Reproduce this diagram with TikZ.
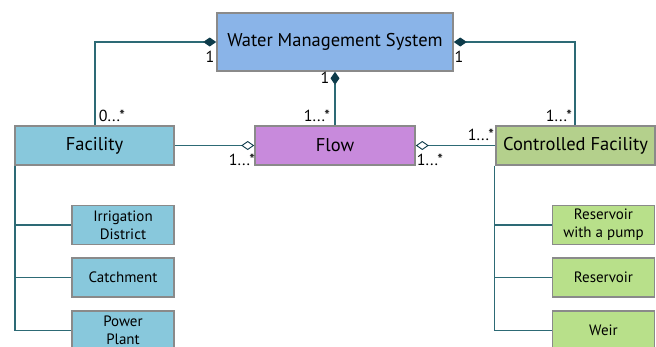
\documentclass[tikz,border=0pt]{standalone}
\usepackage{fontspec}
\setmainfont{PT Sans}
\usetikzlibrary{arrows.meta}
\definecolor{wmsblue}{HTML}{8AB4E8}
\definecolor{facblue}{HTML}{88C8DC}
\definecolor{flowpurple}{HTML}{C88ADC}
\definecolor{cfgreen}{HTML}{B4D08C}
\definecolor{subgreen}{HTML}{B8E08A}
\definecolor{boxborder}{HTML}{8A8A8A}
\definecolor{linkteal}{HTML}{2D6A75}
\definecolor{diamdark}{HTML}{0D3B4A}
\tikzset{
  box/.style={draw=boxborder, line width=1.6pt, inner sep=0pt, align=center, font=\fontsize{18.5}{20}\selectfont},
  subbox/.style={draw=boxborder, line width=1.6pt, inner sep=0pt, align=center, minimum width=102pt, minimum height=39pt, font=\fontsize{15}{18}\selectfont},
  link/.style={draw=linkteal, line width=1.1pt},
  comp/.style={link, -{Diamond[length=13pt,width=9pt,fill=diamdark,color=diamdark]}},
  aggr/.style={link, -{Diamond[open,length=13pt,width=9pt,fill=white,color=diamdark,line width=0.9pt]}},
  mult/.style={font=\fontsize{16}{18}\selectfont, inner sep=0pt, text=black}
}
\begin{document}
\begin{tikzpicture}[x=1pt,y=-1pt]
\useasboundingbox (0,0) rectangle (656,346);
\clip (0,0) rectangle (656,346);
% main boxes
\node[box, fill=wmsblue, minimum width=236pt, minimum height=58pt] (wms) at (335,42) {Water Management System};
\node[box, fill=facblue, minimum width=159pt, minimum height=39pt] (fac) at (94.5,145.5) {Facility};
\node[box, fill=flowpurple, minimum width=160pt, minimum height=39pt] (flow) at (335,145.5) {Flow};
\node[box, fill=cfgreen, minimum width=159pt, minimum height=39pt] (cf) at (575.5,145.5) {Controlled Facility};
% sub boxes left
\node[subbox, fill=facblue] (irr) at (123,225) {Irrigation\\District};
\node[subbox, fill=facblue] (catch) at (123,277.5) {Catchment};
\node[subbox, fill=facblue] (power) at (123,330.5) {Power\\Plant};
% sub boxes right
\node[subbox, fill=subgreen] (pump) at (603.5,225) {Reservoir\\with a pump};
\node[subbox, fill=subgreen] (res) at (603.5,277.5) {Reservoir};
\node[subbox, fill=subgreen] (weir) at (603.5,330.5) {Weir};
% associations
\draw[comp] (fac.north -| 95,0) |- (wms.west);
\draw[comp] (cf.north -| 575,0) |- (wms.east);
\draw[comp] (flow.north) -- (wms.south);
\draw[aggr] (fac.east) -- (flow.west);
\draw[aggr] (cf.west) -- (flow.east);
% inheritance trees
\coordinate (ftop) at (fac.south west);
\draw[link] ([xshift=0.8pt]ftop) |- (power.west);
\draw[link] ([xshift=0.8pt]ftop) |- (irr.west);
\draw[link] ([xshift=0.8pt]ftop) |- (catch.west);
\coordinate (ctop) at (cf.south west);
\draw[link] ([xshift=-0.5pt]ctop) |- (weir.west);
\draw[link] ([xshift=-0.5pt]ctop) |- (pump.west);
\draw[link] ([xshift=-0.5pt]ctop) |- (res.west);
% multiplicities
\node[mult] (m1) at (210,57) {1};
\node[mult] (m2) at (112,116) {0...*};
\node[mult] (m3) at (317,116) {1...*};
\node[mult] (m4) at (325,78) {1};
\node[mult] (m5) at (459,57) {1};
\node[mult] (m6) at (559,116) {1...*};
\node[mult] (m7) at (481,135) {1...*};
\node[mult] (m8) at (242,160) {1...*};
\node[mult] (m9) at (430,160) {1...*};
\end{tikzpicture}
\end{document}
